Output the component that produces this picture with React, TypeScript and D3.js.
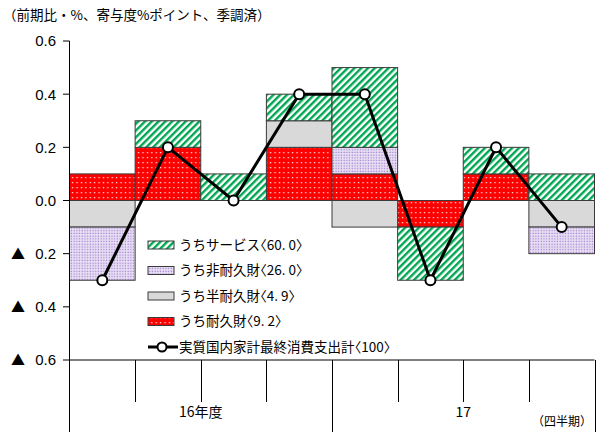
import React from "react";
import * as d3 from "d3";

// 実質国内家計最終消費支出の前期比と形態別寄与度（季調済）
const quarters = ["16Q1", "16Q2", "16Q3", "16Q4", "17Q1", "17Q2", "17Q3", "17Q4"];
const durable = [0.1, 0.2, 0.0, 0.2, 0.1, -0.1, 0.1, 0.0];
const semiDurable = [-0.1, 0.0, 0.0, 0.1, -0.1, 0.0, 0.0, -0.1];
const nonDurable = [-0.2, 0.0, 0.0, 0.0, 0.1, 0.0, 0.0, -0.1];
const services = [0.0, 0.1, 0.1, 0.1, 0.3, -0.2, 0.1, 0.1];
const total = [-0.3, 0.2, 0.0, 0.4, 0.4, -0.3, 0.2, -0.1];

const yTicks = [0.6, 0.4, 0.2, 0.0, -0.2, -0.4, -0.6];
const yearLabels = [
  { label: "16年度", from: 0, to: 4 },
  { label: "17", from: 4, to: 8 },
];

const seriesKeys = ["durable", "semi", "nondurable", "services"] as const;
const legendItems = [
  { key: "services", label: "うちサービス〈60. 0〉" },
  { key: "nondurable", label: "うち非耐久財〈26. 0〉" },
  { key: "semi", label: "うち半耐久財〈4. 9〉" },
  { key: "durable", label: "うち耐久財〈9. 2〉" },
  { key: "total", label: "実質国内家計最終消費支出計〈100〉" },
];

const W = 597;
const H = 432;
const JP = "'Noto Sans CJK JP', 'Noto Sans', sans-serif";
const NUM = "'Liberation Sans', Arial, sans-serif";

const fills: Record<string, string> = {
  durable: "url(#pat-durable)",
  semi: "#d9d9d9",
  nondurable: "url(#pat-nondurable)",
  services: "url(#pat-services)",
};

// half-width brackets via the font's 'halt' feature
const legendTextStyle: React.CSSProperties = { fontFeatureSettings: "'halt'" };

export default function App() {
  const x = d3.scaleBand<string>().domain(quarters).range([69.5, 594.5]).padding(0);
  const y = d3.scaleLinear().domain([-0.6, 0.6]).range([360, 41]);

  const rows = quarters.map((q, i) => ({
    q,
    durable: durable[i],
    semi: semiDurable[i],
    nondurable: nonDurable[i],
    services: services[i],
  }));
  const stacked = d3
    .stack<any>()
    .keys(seriesKeys as unknown as string[])
    .offset(d3.stackOffsetDiverging)(rows);

  const linePts: [number, number][] = quarters.map((q, i) => [
    (x(q) as number) + x.bandwidth() / 2,
    y(total[i]),
  ]);
  const line = d3.line()(linePts) as string;

  const axisBottom = y(-0.6);
  const legendX = 148;
  const legendY0 = 245;
  const legendStep = 25.5;

  return (
    <svg width={W} height={H} style={{ position: "absolute", left: 0, top: 0, background: "#fff" }}>
      <defs>
        <pattern id="pat-durable" patternUnits="userSpaceOnUse" width={4.4} height={5}>
          <rect width={4.4} height={5} fill="#ff0000" />
          <rect x={1.6} y={2} width={1.3} height={1.3} fill="#ffffff" opacity={0.85} />
        </pattern>
        <pattern id="pat-nondurable" patternUnits="userSpaceOnUse" width={2.7} height={2.7}>
          <rect width={2.7} height={2.7} fill="#ebe3f6" />
          <rect x={0.6} y={0.6} width={1.3} height={1.3} fill="#a07ccc" />
        </pattern>
        <pattern
          id="pat-services"
          patternUnits="userSpaceOnUse"
          width={4.8}
          height={4.8}
          patternTransform="rotate(45)"
        >
          <rect width={4.8} height={4.8} fill="#ffffff" />
          <rect width={2.4} height={4.8} fill="#00a651" />
        </pattern>
      </defs>

      {/* heading */}
      <text x={3} y={20} fontFamily={JP} fontSize={13.5} fill="#000">
        （前期比・%、寄与度%ポイント、季調済）
      </text>

      {/* stacked contribution bars */}
      {stacked.map((layer) => (
        <g key={layer.key}>
          {layer.map((d, i) => {
            if (d[1] - d[0] === 0) return null;
            return (
              <rect
                key={i}
                x={x(quarters[i])}
                y={y(d[1])}
                width={x.bandwidth()}
                height={y(d[0]) - y(d[1])}
                fill={fills[layer.key]}
                stroke="#3a3a3a"
                strokeWidth={1}
              />
            );
          })}
        </g>
      ))}

      {/* y axis */}
      <line x1={69.5} x2={69.5} y1={y(0.6)} y2={H} stroke="#000" strokeWidth={1} />
      {yTicks.map((t) => (
        <g key={t}>
          <line x1={63} x2={69.5} y1={y(t)} y2={y(t)} stroke="#000" strokeWidth={1} />
          <text
            x={56}
            y={y(t)}
            dy="0.36em"
            textAnchor="end"
            fontFamily={NUM}
            fontSize={15}
            fill="#000"
          >
            {Math.abs(t).toFixed(1)}
          </text>
          {t < 0 && (
            <text x={11} y={y(t)} dy="0.36em" fontFamily={JP} fontSize={14} fill="#000">
              ▲
            </text>
          )}
        </g>
      ))}

      {/* category axis */}
      <line x1={69.5} x2={594.5} y1={axisBottom} y2={axisBottom} stroke="#000" strokeWidth={1} />
      {quarters.map((q, i) => {
        const xe = (x(q) as number) + x.bandwidth();
        const long = i === 3 || i === 7;
        return (
          <line
            key={q}
            x1={Math.round(xe) + 0.5}
            x2={Math.round(xe) + 0.5}
            y1={axisBottom}
            y2={long ? H : 402}
            stroke="#000"
            strokeWidth={1}
          />
        );
      })}
      {yearLabels.map((g) => {
        const x0 = x(quarters[g.from]) as number;
        const x1 = (x(quarters[g.to - 1]) as number) + x.bandwidth();
        return (
          <text
            key={g.label}
            x={(x0 + x1) / 2}
            y={417}
            textAnchor="middle"
            fontFamily={JP}
            fontSize={14}
            fill="#000"
          >
            {g.label}
          </text>
        );
      })}
      <text x={592} y={426} textAnchor="end" fontFamily={JP} fontSize={12} fill="#000">
        （四半期）
      </text>

      {/* total line */}
      <path d={line} fill="none" stroke="#000" strokeWidth={3} />
      {linePts.map(([cx, cy], i) => (
        <circle key={i} cx={cx} cy={cy} r={5} fill="#fff" stroke="#000" strokeWidth={2} />
      ))}

      {/* legend */}
      {legendItems.map((item, i) => {
        const cy = legendY0 + i * legendStep;
        const label = (
          <text
            x={legendX + 31}
            y={cy}
            dy="0.36em"
            fontFamily={JP}
            fontSize={13.5}
            fill="#000"
            style={legendTextStyle}
          >
            {item.label}
          </text>
        );
        if (item.key === "total") {
          return (
            <g key={item.key}>
              <line x1={legendX} x2={legendX + 30} y1={cy} y2={cy} stroke="#000" strokeWidth={3} />
              <circle cx={legendX + 14} cy={cy} r={4.5} fill="#fff" stroke="#000" strokeWidth={2} />
              {label}
            </g>
          );
        }
        return (
          <g key={item.key}>
            <rect
              x={legendX}
              y={cy - 4}
              width={26}
              height={8}
              fill={fills[item.key]}
              stroke="#3a3a3a"
              strokeWidth={1}
            />
            {label}
          </g>
        );
      })}
    </svg>
  );
}
